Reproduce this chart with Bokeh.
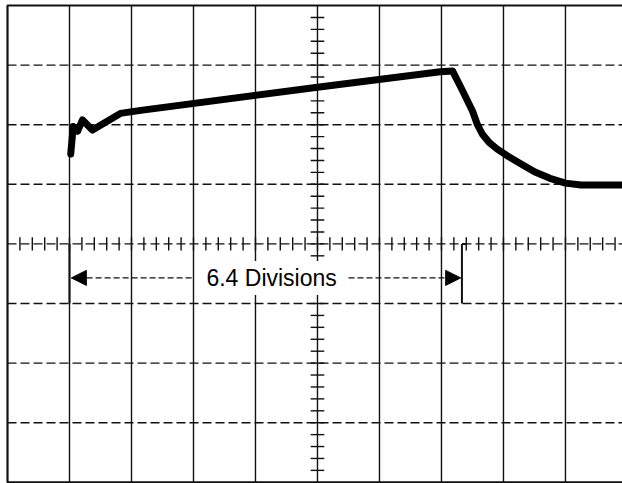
import numpy as np
from bokeh.plotting import figure
from bokeh.models import Range1d, Arrow, NormalHead, Label
from bokeh.embed import file_html
from bokeh.resources import INLINE

# Graticule (divisions)
n_hdiv = 10
n_vdiv = 8
minor_step = 0.2

# Trace, in divisions (x from left edge, y from centre line)
trace_x = [1.02, 1.06, 1.13, 1.21, 1.37, 1.82, 2.15, 5.0, 6.98, 7.18, 7.34, 7.50, 7.58, 7.66, 7.77, 7.90,
           8.06, 8.27, 8.50, 8.75, 9.00, 9.25, 9.92]
trace_y = [1.51, 1.97, 1.89, 2.08, 1.91, 2.19, 2.24, 2.63, 2.89, 2.90, 2.57, 2.23, 2.00, 1.84, 1.70, 1.59,
           1.48, 1.35, 1.21, 1.10, 1.02, 0.99, 0.99]

# Measurement markers
measure_start = 1.0
measure_end = 7.33
measure_y = -0.57
measure_label = "6.4 Divisions"
label_x = 4.26
arrow_left_from = 2.97
arrow_right_from = 5.5

p = figure(width=622, height=483, x_range=Range1d(-0.113, 9.92), y_range=Range1d(-4.02, 4.084),
           output_backend="svg", toolbar_location=None, min_border=0,
           x_axis_location=None, y_axis_location=None)
p.grid.visible = False
p.outline_line_color = None
p.background_fill_color = "white"
p.border_fill_color = "white"

black = "#111111"

# vertical division lines (solid)
vx = list(range(1, n_hdiv))
p.segment(x0=vx, y0=[-n_vdiv / 2] * len(vx), x1=vx, y1=[n_vdiv / 2] * len(vx), line_color=black, line_width=1.4)
# horizontal division lines (dashed)
hy = list(range(-n_vdiv // 2 + 1, n_vdiv // 2))
p.segment(x0=[0] * len(hy), y0=hy, x1=[n_hdiv] * len(hy), y1=hy, line_color=black, line_width=1.4, line_dash="9 4")
# border
p.line(x=[n_hdiv, 0, 0, n_hdiv], y=[n_vdiv / 2, n_vdiv / 2, -n_vdiv / 2, -n_vdiv / 2], line_color=black, line_width=2.2)

# minor ticks on centre lines
tx = np.arange(minor_step, n_hdiv, minor_step)
p.segment(x0=tx, y0=-0.11, x1=tx, y1=0.11, line_color=black, line_width=1.4)
ty = np.arange(-n_vdiv / 2 + minor_step, n_vdiv / 2, minor_step)
p.segment(x0=n_hdiv / 2 - 0.11, y0=ty, x1=n_hdiv / 2 + 0.11, y1=ty, line_color=black, line_width=1.4)

# trace
p.line(x=trace_x, y=trace_y, line_color="black", line_width=7, line_join="round", line_cap="round")

# measurement markers
p.segment(x0=[measure_start, measure_end], y0=[0, 0], x1=[measure_start, measure_end], y1=[-1, -1],
          line_color=black, line_width=2)
p.segment(x0=[measure_end], y0=[0], x1=[measure_end + 0.07], y1=[0], line_color=black, line_width=2)

for xs, xe in [(arrow_left_from, measure_start + 0.03), (arrow_right_from, measure_end - 0.02)]:
    p.add_layout(Arrow(end=NormalHead(size=15, fill_color="black", line_color="black", line_width=1),
                       x_start=xs, y_start=measure_y, x_end=xe, y_end=measure_y,
                       line_color=black, line_width=1.3, line_dash="6 3"))

p.add_layout(Label(x=label_x, y=measure_y, text=measure_label, text_align="center", text_baseline="middle",
                   text_font="Liberation Sans", text_font_size="23px", text_color="black",
                   background_fill_color="white", padding=4))

open("out.html", "w").write(file_html(p, INLINE))
